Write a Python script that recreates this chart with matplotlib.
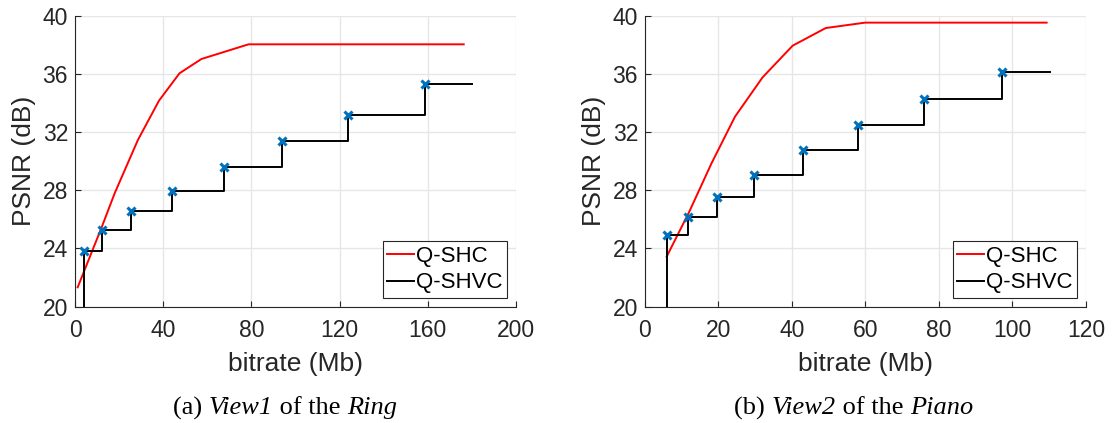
import numpy as np
import matplotlib
matplotlib.use('Agg')
import matplotlib.pyplot as plt
from matplotlib.offsetbox import TextArea, HPacker, AnchoredOffsetbox

# ---------------------------------- data ----------------------------------#
# (a) View1 of the Ring
ring_shc_rate = [1.2, 12.2, 18.0, 28.5, 38.1, 47.4, 57.3, 78.7, 176.3]
ring_shc_psnr = [21.33, 25.5, 27.8, 31.45, 34.16, 36.04, 37.02, 38.03, 38.03]
ring_shvc_rate = [4.2, 12.2, 25.5, 44.1, 67.7, 94.1, 124.0, 158.9]
ring_shvc_psnr = [23.85, 25.3, 26.6, 27.95, 29.6, 31.4, 33.2, 35.3]
ring_shvc_end = 179.9

# (b) View2 of the Piano
piano_shc_rate = [5.9, 12.0, 18.1, 24.5, 32.0, 40.2, 49.2, 59.9, 109.3]
piano_shc_psnr = [23.44, 26.5, 29.85, 33.06, 35.76, 37.94, 39.15, 39.52, 39.52]
piano_shvc_rate = [6.1, 11.6, 19.6, 29.7, 43.1, 58.0, 75.8, 97.2]
piano_shvc_psnr = [24.9, 26.14, 27.56, 29.05, 30.77, 32.46, 34.25, 36.13]
piano_shvc_end = 110.2

panels = [
    dict(shc=(ring_shc_rate, ring_shc_psnr), shvc=(ring_shvc_rate, ring_shvc_psnr),
         end=ring_shvc_end, xmax=200, xticks=[0, 40, 80, 120, 160, 200]),
    dict(shc=(piano_shc_rate, piano_shc_psnr), shvc=(piano_shvc_rate, piano_shvc_psnr),
         end=piano_shvc_end, xmax=120, xticks=[0, 20, 40, 60, 80, 100, 120]),
]
yticks = [20, 24, 28, 32, 36, 40]
# caption pieces: (text, italic?)
captions = [
    [('(a) ', False), ('View1', True), (' of the ', False), ('Ring', True)],
    [('(b) ', False), ('View2', True), (' of the ', False), ('Piano', True)],
]

# ---------------------------------- plot ----------------------------------#
plt.rcParams['font.family'] = ['Liberation Sans', 'DejaVu Sans']
fig = plt.figure(figsize=(11.13, 4.23), dpi=100)
serif = ['Liberation Serif', 'DejaVu Serif']

lefts = [0.0674, 0.5795]
cap_x = [0.256, 0.767]
for p, left, cap, cx in zip(panels, lefts, captions, cap_x):
    ax = fig.add_axes([left, 0.275, 0.3962, 0.688])
    xs, ys = p['shvc']
    # staircase: vertical from 20 dB, then hold each value until next rate
    sx = [xs[0]]
    sy = [20]
    for i in range(len(xs)):
        sx.append(xs[i]); sy.append(ys[i])
        nxt = xs[i + 1] if i + 1 < len(xs) else p['end']
        sx.append(nxt); sy.append(ys[i])
    ax.plot(p['shc'][0], p['shc'][1], color='#ff0000', lw=1.4, label='Q-SHC', zorder=3)
    ax.plot(sx, sy, color='black', lw=1.4, label='Q-SHVC', zorder=3)
    ax.plot(xs, ys, ls='none', marker='x', color='#0072BD', ms=6, mew=2.2, zorder=4)

    ax.set_xlim(0, p['xmax'])
    ax.set_ylim(20, 40)
    ax.set_xticks(p['xticks'])
    ax.set_yticks(yticks)
    ax.grid(True, color='#e6e6e6', lw=1)
    ax.set_axisbelow(True)
    for s in ['top', 'right']:
        ax.spines[s].set_visible(False)
    for s in ['left', 'bottom']:
        ax.spines[s].set_color('#262626')
        ax.spines[s].set_linewidth(0.8)
    ax.tick_params(direction='in', length=4, labelsize=16.5, colors='#262626')
    ax.tick_params(axis='x', pad=9)
    ax.tick_params(axis='y', pad=5)
    ax.set_xlabel('bitrate (Mb)', fontsize=19, color='#262626', labelpad=7)
    ax.set_ylabel('PSNR (dB)', fontsize=19, color='#262626', labelpad=5)
    leg = ax.legend(loc='lower right', fontsize=16, handlelength=1.2, handletextpad=0.1,
                    borderpad=0.2, labelspacing=0.25, fancybox=False, framealpha=1,
                    borderaxespad=0.4)
    leg.get_frame().set_edgecolor('#262626')
    leg.get_frame().set_linewidth(0.8)

    pieces = [TextArea(t, textprops=dict(fontsize=19, family=serif,
                                         style='italic' if it else 'normal'))
              for t, it in cap]
    box = HPacker(children=pieces, align='baseline', pad=0, sep=0)
    anchored = AnchoredOffsetbox(loc='lower center', child=box, frameon=False, pad=0,
                                 borderpad=0, bbox_to_anchor=(cx, 0.008),
                                 bbox_transform=fig.transFigure)
    fig.add_artist(anchored)

plt.savefig('out.png', dpi=100)
